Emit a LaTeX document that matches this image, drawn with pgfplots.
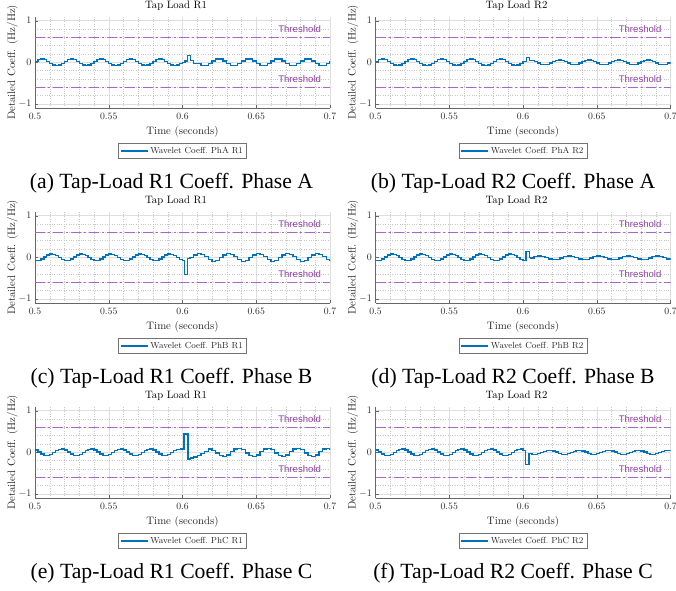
\documentclass[border=0pt]{standalone}
\usepackage{pgfplots}
\pgfplotsset{compat=1.18}
\usepackage{pgfplotstable}
\usepackage{fontspec}
\newfontfamily\capfont{Liberation Serif}
\newfontfamily\thfont{Liberation Sans}
\definecolor{mblue}{rgb}{0,0.447,0.741}
\definecolor{thline}{rgb}{0.66,0.40,0.78}
\definecolor{thtext}{rgb}{0.56,0.25,0.65}

\pgfplotstableread{
t A B C
0.500 0.025 -0.078 0.054
0.502 0.065 -0.073 0.008
0.504 0.080 -0.040 -0.040
0.506 0.065 0.008 -0.073
0.508 0.025 0.054 -0.078
0.510 -0.025 0.078 -0.054
0.512 -0.065 0.073 -0.008
0.514 -0.080 0.040 0.040
0.516 -0.065 -0.008 0.073
0.518 -0.025 -0.054 0.078
0.520 0.025 -0.078 0.054
0.522 0.065 -0.073 0.008
0.524 0.080 -0.040 -0.040
0.526 0.065 0.008 -0.073
0.528 0.025 0.054 -0.078
0.530 -0.025 0.078 -0.054
0.532 -0.065 0.073 -0.008
0.534 -0.080 0.040 0.040
0.536 -0.065 -0.008 0.073
0.538 -0.025 -0.054 0.078
0.540 0.025 -0.078 0.054
0.542 0.065 -0.073 0.008
0.544 0.080 -0.040 -0.040
0.546 0.065 0.008 -0.073
0.548 0.025 0.054 -0.078
0.550 -0.025 0.078 -0.054
0.552 -0.065 0.073 -0.008
0.554 -0.080 0.040 0.040
0.556 -0.065 -0.008 0.073
0.558 -0.025 -0.054 0.078
0.560 0.025 -0.078 0.054
0.562 0.065 -0.073 0.008
0.564 0.080 -0.040 -0.040
0.566 0.065 0.008 -0.073
0.568 0.025 0.054 -0.078
0.570 -0.025 0.078 -0.054
0.572 -0.065 0.073 -0.008
0.574 -0.080 0.040 0.040
0.576 -0.065 -0.008 0.073
0.578 -0.025 -0.054 0.078
0.580 0.025 -0.078 0.054
0.582 0.065 -0.073 0.008
0.584 0.080 -0.040 -0.040
0.586 0.065 0.008 -0.073
0.588 0.025 0.054 -0.078
0.590 -0.025 0.078 -0.054
0.592 -0.065 0.073 -0.008
0.594 -0.080 0.040 0.040
0.596 -0.065 -0.008 0.073
0.598 -0.025 -0.054 0.078
}\pre

\pgfplotsset{
  panel/.style={
    scale only axis, width=295pt, height=91.6pt,
    anchor=north west,
    xmin=0.5, xmax=0.7, ymin=-1.1, ymax=1.1,
    xtick={0.5,0.55,0.6,0.65,0.7}, ytick={-1,0,1},
    xticklabels={0.5,0.55,0.6,0.65,0.7},
    minor x tick num=4, minor y tick num=4,
    grid=both,
    major grid style={black!13, line width=0.5pt},
    minor grid style={black!22, dotted, line width=0.5pt},
    axis x line*=bottom, axis y line*=left,
    axis line style={black!60, line width=0.7pt, -},
    tick align=inside, major tick length=3pt, minor tick length=0pt,
    tick style={black!60},
    ticklabel style={font=\fontsize{9.7}{10}\selectfont, text=black!85},
    xticklabel style={yshift=-1.5pt},
    xlabel={Time (seconds)}, ylabel={Detailed Coeff. (Hz/Hz)},
    label style={font=\fontsize{10.8}{11}\selectfont, text=black!85},
    ylabel shift=-6pt,
    title style={font=\fontsize{10.7}{11}\selectfont, at={(0.478,1)}, anchor=south, yshift=-2pt, inner sep=2pt},
    legend style={at={(0.5,-0.469)}, anchor=center, font=\fontsize{8.8}{9}\selectfont,
      draw=black!55, line width=0.6pt, inner sep=1.5pt, text=black!85},
    legend image code/.code={\draw[mblue, line width=1.3pt] (0pt,0pt) -- (27pt,0pt);},
  },
  sig/.style={color=mblue, line width=1.3pt, const plot},
  thr/.style={color=thline, line width=1.5pt, dash pattern=on 10pt off 3pt on 2pt off 3pt, forget plot},
}
\newcommand{\thresh}{%
  \addplot[thr] coordinates {(0.5,0.6)(0.7,0.6)};
  \addplot[thr] coordinates {(0.5,-0.6)(0.7,-0.6)};
  \node[anchor=east, text=thtext, font=\fontsize{9.6}{10}\thfont, inner sep=0pt] at (axis cs:0.694,0.80) {Threshold};
  \node[anchor=east, text=thtext, font=\fontsize{9.6}{10}\thfont, inner sep=0pt] at (axis cs:0.694,-0.41) {Threshold};
}

\begin{document}
\begin{tikzpicture}
\useasboundingbox (0,0) rectangle (676pt,-590pt);

% (a)
\begin{axis}[panel, at={(35pt,-16.5pt)}, title={Tap Load R1}]
\thresh
\addplot[sig] table[x=t, y=A] {\pre};
\addlegendentry{Wavelet Coeff.\ PhA R1}
\addplot[sig, forget plot] coordinates {
(0.598,-0.025)(0.600,0.0)(0.6017,0.03)(0.6035,0.16)(0.6055,0.04)(0.6073,-0.035)
(0.610,-0.033)(0.6125,-0.079)(0.615,-0.079)(0.6175,-0.033)(0.620,0.033)(0.6225,0.079)(0.625,0.079)(0.6275,0.033)
(0.630,-0.033)(0.6325,-0.079)(0.635,-0.079)(0.6375,-0.033)(0.640,0.033)(0.6425,0.079)(0.645,0.079)(0.6475,0.033)
(0.650,-0.033)(0.6525,-0.079)(0.655,-0.079)(0.6575,-0.033)(0.660,0.033)(0.6625,0.079)(0.665,0.079)(0.6675,0.033)
(0.670,-0.033)(0.6725,-0.079)(0.675,-0.079)(0.6775,-0.033)(0.680,0.033)(0.6825,0.079)(0.685,0.079)(0.6875,0.033)
(0.690,-0.033)(0.6925,-0.079)(0.695,-0.079)(0.6975,-0.033)(0.700,0.033)};
\end{axis}

% (b)
\begin{axis}[panel, at={(375.5pt,-16.5pt)}, title={Tap Load R2}]
\thresh
\addplot[sig] table[x=t, y=A] {\pre};
\addlegendentry{Wavelet Coeff.\ PhA R2}
\addplot[sig, forget plot] coordinates {
(0.598,-0.025)(0.600,0.017)(0.6025,0.11)(0.6045,0.045)(0.606,0.045)(0.608,0.017)(0.610,-0.017)(0.612,-0.045)(0.614,-0.055)(0.616,-0.045)(0.618,-0.017)
(0.620,0.017)(0.622,0.045)(0.624,0.055)(0.626,0.045)(0.628,0.017)(0.630,-0.017)(0.632,-0.045)(0.634,-0.055)(0.636,-0.045)(0.638,-0.017)
(0.640,0.017)(0.642,0.045)(0.644,0.055)(0.646,0.045)(0.648,0.017)(0.650,-0.017)(0.652,-0.045)(0.654,-0.055)(0.656,-0.045)(0.658,-0.017)
(0.660,0.017)(0.662,0.045)(0.664,0.055)(0.666,0.045)(0.668,0.017)(0.670,-0.017)(0.672,-0.045)(0.674,-0.055)(0.676,-0.045)(0.678,-0.017)
(0.680,0.017)(0.682,0.045)(0.684,0.055)(0.686,0.045)(0.688,0.017)(0.690,-0.017)(0.692,-0.045)(0.694,-0.055)(0.696,-0.045)(0.698,-0.017)
(0.700,0.017)};
\end{axis}

% (c)
\begin{axis}[panel, at={(35pt,-211.5pt)}, title={Tap Load R1}]
\thresh
\addplot[sig] table[x=t, y=B] {\pre};
\addlegendentry{Wavelet Coeff.\ PhB R1}
\addplot[sig, forget plot] coordinates {
(0.598,-0.054)(0.600,-0.075)(0.6015,-0.42)(0.6035,-0.03)
(0.605,-0.012)(0.6075,0.058)(0.610,0.094)(0.6125,0.075)(0.615,0.012)(0.6175,-0.058)(0.620,-0.094)(0.6225,-0.075)
(0.625,-0.012)(0.6275,0.058)(0.630,0.094)(0.6325,0.075)(0.635,0.012)(0.6375,-0.058)(0.640,-0.094)(0.6425,-0.075)
(0.645,-0.012)(0.6475,0.058)(0.650,0.094)(0.6525,0.075)(0.655,0.012)(0.6575,-0.058)(0.660,-0.094)(0.6625,-0.075)
(0.665,-0.012)(0.6675,0.058)(0.670,0.094)(0.6725,0.075)(0.675,0.012)(0.6775,-0.058)(0.680,-0.094)(0.6825,-0.075)
(0.685,-0.012)(0.6875,0.058)(0.690,0.094)(0.6925,0.075)(0.695,0.012)(0.6975,-0.058)(0.700,-0.094)};
\end{axis}

% (d)
\begin{axis}[panel, at={(375.5pt,-211.5pt)}, title={Tap Load R2}]
\thresh
\addplot[sig] table[x=t, y=B] {\pre};
\addlegendentry{Wavelet Coeff.\ PhB R2}
\addplot[sig, forget plot] coordinates {
(0.598,-0.054)(0.600,-0.07)(0.602,0.145)(0.6043,-0.01)
(0.605,-0.016)(0.6075,0.017)(0.610,0.035)(0.6125,0.026)(0.615,-0.004)(0.6175,-0.037)(0.620,-0.055)(0.6225,-0.046)
(0.625,-0.016)(0.6275,0.017)(0.630,0.035)(0.6325,0.026)(0.635,-0.004)(0.6375,-0.037)(0.640,-0.055)(0.6425,-0.046)
(0.645,-0.016)(0.6475,0.017)(0.650,0.035)(0.6525,0.026)(0.655,-0.004)(0.6575,-0.037)(0.660,-0.055)(0.6625,-0.046)
(0.665,-0.016)(0.6675,0.017)(0.670,0.035)(0.6725,0.026)(0.675,-0.004)(0.6775,-0.037)(0.680,-0.055)(0.6825,-0.046)
(0.685,-0.016)(0.6875,0.017)(0.690,0.035)(0.6925,0.026)(0.695,-0.004)(0.6975,-0.037)(0.700,-0.055)};
\end{axis}

% (e)
\begin{axis}[panel, at={(35pt,-406.5pt)}, title={Tap Load R1}]
\thresh
\addplot[sig] table[x=t, y=C] {\pre};
\addlegendentry{Wavelet Coeff.\ PhC R1}
\addplot[sig, forget plot] coordinates {
(0.598,0.078)(0.600,0.06)(0.601,0.44)(0.6038,-0.16)(0.6055,-0.14)(0.6075,-0.11)(0.610,-0.07)(0.6125,-0.03)(0.615,0.02)(0.6175,0.08)(0.620,0.05)
(0.6225,-0.013)(0.625,-0.079)(0.6275,-0.099)(0.630,-0.061)(0.6325,0.013)(0.635,0.079)(0.6375,0.099)(0.640,0.061)
(0.6425,-0.013)(0.645,-0.079)(0.6475,-0.099)(0.650,-0.061)(0.6525,0.013)(0.655,0.079)(0.6575,0.099)(0.660,0.061)
(0.6625,-0.013)(0.665,-0.079)(0.6675,-0.099)(0.670,-0.061)(0.6725,0.013)(0.675,0.079)(0.6775,0.099)(0.680,0.061)
(0.6825,-0.013)(0.685,-0.079)(0.6875,-0.099)(0.690,-0.061)(0.6925,0.013)(0.695,0.079)(0.6975,0.099)(0.700,0.061)};
\end{axis}

% (f)
\begin{axis}[panel, at={(375.5pt,-406.5pt)}, title={Tap Load R2}]
\thresh
\addplot[sig] table[x=t, y=C] {\pre};
\addlegendentry{Wavelet Coeff.\ PhC R2}
\addplot[sig, forget plot] coordinates {
(0.598,0.078)(0.600,0.05)(0.6017,-0.30)(0.604,-0.025)(0.606,-0.046)(0.608,-0.049)(0.610,-0.034)(0.612,-0.005)(0.614,0.025)(0.616,0.046)(0.618,0.049)
(0.620,0.034)(0.622,0.005)(0.624,-0.025)(0.626,-0.046)(0.628,-0.049)(0.630,-0.034)(0.632,-0.005)(0.634,0.025)(0.636,0.046)(0.638,0.049)
(0.640,0.034)(0.642,0.005)(0.644,-0.025)(0.646,-0.046)(0.648,-0.049)(0.650,-0.034)(0.652,-0.005)(0.654,0.025)(0.656,0.046)(0.658,0.049)
(0.660,0.034)(0.662,0.005)(0.664,-0.025)(0.666,-0.046)(0.668,-0.049)(0.670,-0.034)(0.672,-0.005)(0.674,0.025)(0.676,0.046)(0.678,0.049)
(0.680,0.034)(0.682,0.005)(0.684,-0.025)(0.686,-0.046)(0.688,-0.049)(0.690,-0.034)(0.692,-0.005)(0.694,0.025)(0.696,0.046)(0.698,0.049)
(0.700,0.034)};
\end{axis}

% captions
\begin{scope}[every node/.style={font=\fontsize{21.7}{24}\capfont, inner sep=0pt}]
\node at (171.5pt,-183pt) {(a) Tap-Load R1 Coeff. Phase A};
\node at (513pt,-183pt) {(b) Tap-Load R2 Coeff. Phase A};
\node at (171.5pt,-378pt) {(c) Tap-Load R1 Coeff. Phase B};
\node at (513pt,-378pt) {(d) Tap-Load R2 Coeff. Phase B};
\node at (171.5pt,-573pt) {(e) Tap-Load R1 Coeff. Phase C};
\node at (513pt,-573pt) {(f) Tap-Load R2 Coeff. Phase C};
\end{scope}
\end{tikzpicture}
\end{document}
